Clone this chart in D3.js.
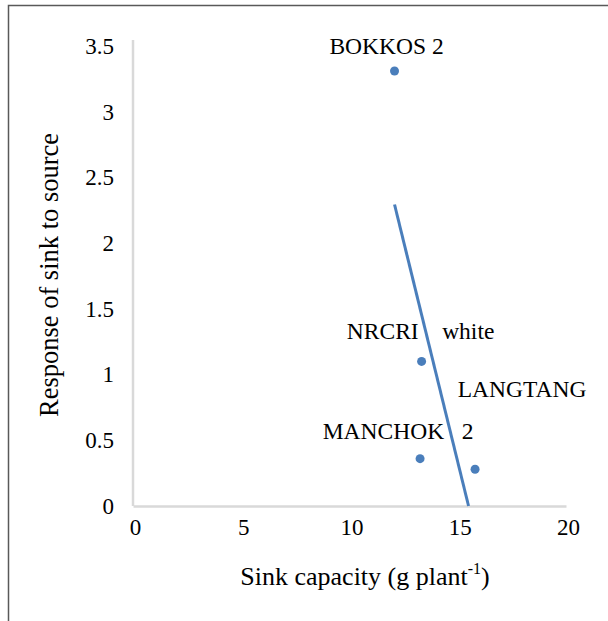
<!DOCTYPE html>
<html>
<head>
<meta charset="utf-8">
<script src="https://cdn.jsdelivr.net/npm/d3@7/dist/d3.min.js"></script>
<style>
  html, body { margin: 0; padding: 0; background: #fff; }
  svg { display: block; }
  text { font-family: "Liberation Serif", "Times New Roman", serif; fill: #000; }
</style>
</head>
<body>
<svg id="chart" width="608" height="621"></svg>
<script>
// ---- data ----
const genotypes = ["BOKKOS 2", "NRCRI    white", "MANCHOK   2", "LANGTANG"];
const sinkCapacity = [12.08, 13.33, 13.26, 15.80];
const response = [3.31, 1.10, 0.36, 0.28];
const xTicks = [0, 5, 10, 15, 20];
const yTicks = [0, 0.5, 1, 1.5, 2, 2.5, 3, 3.5];
const xTitle = "Sink capacity (g plant";
const yTitle = "Response of sink to source";

// label placement offsets (px, relative to point) – styling only
const labelOffsets = [[-8, -17], [-1, -22], [-22, -20], [47, -72]];

const svg = d3.select("#chart");

// outer frame (extends past right/bottom of the view)
svg.append("rect")
  .attr("x", 8.5).attr("y", 5.5)
  .attr("width", 800).attr("height", 800)
  .attr("fill", "none").attr("stroke", "#595959").attr("stroke-width", 1.5);

const x = d3.scaleLinear().domain([0, 20]).range([133, 566]);
const y = d3.scaleLinear().domain([0, 3.5]).range([506, 46]);

// axes
const xAxis = d3.axisBottom(x).tickValues(xTicks).tickSize(0).tickPadding(13).tickFormat(d3.format("d"));
const yAxis = d3.axisLeft(y).tickValues(yTicks).tickSize(0).tickPadding(19).tickFormat(d => String(d));

const gx = svg.append("g").attr("transform", `translate(0,${y(0)})`).call(xAxis);
const gy = svg.append("g").attr("transform", `translate(${x(0)},0)`).call(yAxis);
[gx, gy].forEach(g => {
  g.attr("font-family", null);
  g.select(".domain").attr("stroke", "#d9d9d9").attr("stroke-width", 2.5);
  g.selectAll("text").attr("font-size", 23).attr("fill", "#000");
});
gx.selectAll("text").attr("dy", "0.71em").attr("dx", 2);
gy.select(".domain").attr("d", `M0,${y(0)}V${y(3.5) - 6}`);

// axis titles
const xt = svg.append("text")
  .attr("x", 365).attr("y", 585)
  .attr("text-anchor", "middle").attr("font-size", 26);
xt.append("tspan").text(xTitle);
xt.append("tspan").attr("font-size", 16).attr("dy", -11).text("-1");
xt.append("tspan").attr("dy", 11).text(")");

svg.append("text")
  .attr("transform", `translate(58,275) rotate(-90)`)
  .attr("text-anchor", "middle").attr("font-size", 26.5)
  .text(yTitle);

const data = genotypes.map((g, i) => ({ name: g, x: sinkCapacity[i], y: response[i], off: labelOffsets[i] }));

// linear trendline (least squares), clipped at the x axis
const mx = d3.mean(data, d => d.x), my = d3.mean(data, d => d.y);
const slope = d3.sum(data, d => (d.x - mx) * (d.y - my)) / d3.sum(data, d => (d.x - mx) ** 2);
const icpt = my - slope * mx;
const x0 = d3.min(data, d => d.x);
let x1 = d3.max(data, d => d.x);
if (slope * x1 + icpt < 0) x1 = -icpt / slope;
svg.append("line")
  .attr("x1", x(x0)).attr("y1", y(slope * x0 + icpt))
  .attr("x2", x(x1)).attr("y2", y(slope * x1 + icpt))
  .attr("stroke", "#4a7ebb").attr("stroke-width", 3);

// points
svg.append("g").selectAll("circle").data(data).join("circle")
  .attr("cx", d => x(d.x)).attr("cy", d => y(d.y))
  .attr("r", 4.5).attr("fill", "#4a7ebb");

// data labels
svg.append("g").selectAll("text").data(data).join("text")
  .attr("x", d => x(d.x) + d.off[0]).attr("y", d => y(d.y) + d.off[1])
  .attr("text-anchor", "middle").attr("font-size", 23.5)
  .style("white-space", "pre")
  .text(d => d.name);
</script>
</body>
</html>
